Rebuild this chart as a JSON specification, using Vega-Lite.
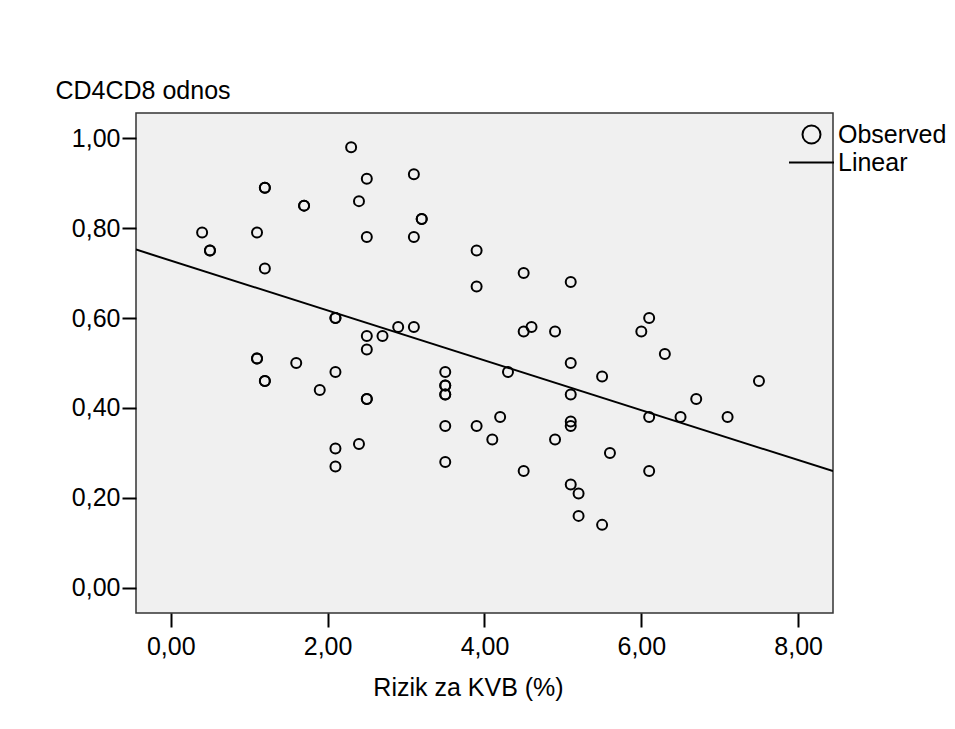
{
  "$schema": "https://vega.github.io/schema/vega-lite/v6.json",
  "width": 697,
  "height": 500,
  "autosize": {"type": "none"},
  "padding": {"left": 136, "top": 113, "right": 122, "bottom": 116},
  "background": "white",
  "config": {
    "font": "Liberation Sans",
    "view": {"fill": "#f0f0f0", "stroke": "#333333", "strokeWidth": 1.5},
    "axis": {
      "domain": false,
      "grid": false,
      "tickSize": 14,
      "tickWidth": 2,
      "tickColor": "black",
      "labelColor": "black",
      "labelFontSize": 25,
      "titleColor": "black",
      "titleFontSize": 25,
      "titleFontWeight": "normal"
    }
  },
  "data": {
    "values": [
      {"kvb": 0.4, "cd": 0.79}, {"kvb": 0.5, "cd": 0.75}, {"kvb": 0.5, "cd": 0.75},
      {"kvb": 1.1, "cd": 0.79}, {"kvb": 1.2, "cd": 0.89}, {"kvb": 1.2, "cd": 0.89},
      {"kvb": 1.2, "cd": 0.71}, {"kvb": 1.7, "cd": 0.85}, {"kvb": 1.7, "cd": 0.85},
      {"kvb": 2.3, "cd": 0.98}, {"kvb": 2.5, "cd": 0.91}, {"kvb": 2.4, "cd": 0.86},
      {"kvb": 3.1, "cd": 0.92}, {"kvb": 3.2, "cd": 0.82}, {"kvb": 3.2, "cd": 0.82},
      {"kvb": 2.5, "cd": 0.78}, {"kvb": 3.1, "cd": 0.78}, {"kvb": 3.9, "cd": 0.75},
      {"kvb": 3.9, "cd": 0.67}, {"kvb": 2.1, "cd": 0.60}, {"kvb": 2.1, "cd": 0.60},
      {"kvb": 2.5, "cd": 0.56}, {"kvb": 2.7, "cd": 0.56}, {"kvb": 2.9, "cd": 0.58},
      {"kvb": 3.1, "cd": 0.58}, {"kvb": 2.5, "cd": 0.53}, {"kvb": 1.1, "cd": 0.51},
      {"kvb": 1.1, "cd": 0.51}, {"kvb": 1.6, "cd": 0.50}, {"kvb": 2.1, "cd": 0.48},
      {"kvb": 1.2, "cd": 0.46}, {"kvb": 1.2, "cd": 0.46}, {"kvb": 1.9, "cd": 0.44},
      {"kvb": 2.5, "cd": 0.42}, {"kvb": 2.5, "cd": 0.42}, {"kvb": 2.1, "cd": 0.31},
      {"kvb": 2.1, "cd": 0.27}, {"kvb": 2.4, "cd": 0.32}, {"kvb": 3.5, "cd": 0.48},
      {"kvb": 3.5, "cd": 0.45}, {"kvb": 3.5, "cd": 0.45}, {"kvb": 3.5, "cd": 0.43},
      {"kvb": 3.5, "cd": 0.43}, {"kvb": 3.5, "cd": 0.36}, {"kvb": 3.5, "cd": 0.28},
      {"kvb": 3.9, "cd": 0.36}, {"kvb": 4.1, "cd": 0.33}, {"kvb": 4.2, "cd": 0.38},
      {"kvb": 4.5, "cd": 0.70}, {"kvb": 5.1, "cd": 0.68}, {"kvb": 4.5, "cd": 0.57},
      {"kvb": 4.6, "cd": 0.58}, {"kvb": 4.9, "cd": 0.57}, {"kvb": 5.1, "cd": 0.50},
      {"kvb": 5.5, "cd": 0.47}, {"kvb": 4.3, "cd": 0.48}, {"kvb": 5.1, "cd": 0.43},
      {"kvb": 5.1, "cd": 0.37}, {"kvb": 5.1, "cd": 0.36}, {"kvb": 4.9, "cd": 0.33},
      {"kvb": 5.6, "cd": 0.30}, {"kvb": 4.5, "cd": 0.26}, {"kvb": 5.1, "cd": 0.23},
      {"kvb": 5.2, "cd": 0.21}, {"kvb": 5.2, "cd": 0.16}, {"kvb": 5.5, "cd": 0.14},
      {"kvb": 6.1, "cd": 0.60}, {"kvb": 6.0, "cd": 0.57}, {"kvb": 6.3, "cd": 0.52},
      {"kvb": 7.5, "cd": 0.46}, {"kvb": 6.7, "cd": 0.42}, {"kvb": 6.1, "cd": 0.38},
      {"kvb": 6.5, "cd": 0.38}, {"kvb": 7.1, "cd": 0.38}, {"kvb": 6.1, "cd": 0.26}
    ]
  },
  "layer": [
    {
      "mark": {"type": "point", "filled": false, "color": "black", "strokeWidth": 2, "size": 100, "opacity": 1},
      "encoding": {
        "x": {
          "field": "kvb", "type": "quantitative",
          "scale": {"domain": [-0.443, 8.444], "nice": false, "zero": false},
          "axis": {
            "values": [0, 2, 4, 6, 8],
            "labelExpr": "replace(format(datum.value, '.2f'), '.', ',')",
            "labelPadding": 7,
            "title": "Rizik za KVB (%)",
            "titlePadding": 16,
            "titleX": 332,
            "titleAlign": "center"
          }
        },
        "y": {
          "field": "cd", "type": "quantitative",
          "scale": {"domain": [-0.056, 1.056], "nice": false, "zero": false},
          "axis": {
            "values": [0, 0.2, 0.4, 0.6, 0.8, 1.0],
            "labelExpr": "replace(format(datum.value, '.2f'), '.', ',')",
            "labelPadding": 2,
            "title": "CD4CD8 odnos",
            "titleAngle": 0,
            "titleAlign": "left",
            "titleBaseline": "alphabetic",
            "titleX": -81,
            "titleY": -15
          }
        },
        "shape": {
          "datum": "Observed",
          "type": "nominal",
          "scale": {
            "domain": ["Observed", "Linear"],
            "range": ["M-1,0A1,1,0,1,1,1,0A1,1,0,1,1,-1,0Z", "M-2.5,0L2.5,0"]
          },
          "legend": {
            "title": null,
            "orient": "none",
            "legendX": 663,
            "legendY": 9,
            "padding": 0,
            "symbolSize": 324,
            "symbolStrokeWidth": 2,
            "symbolStrokeColor": "black",
            "symbolFillColor": "transparent",
            "labelFontSize": 25,
            "labelColor": "black",
            "labelOffset": 14,
            "rowPadding": 2
          }
        }
      }
    },
    {
      "transform": [{"regression": "cd", "on": "kvb", "extent": [-0.443, 8.444]}],
      "mark": {"type": "line", "color": "black", "strokeWidth": 2, "clip": true},
      "encoding": {
        "x": {"field": "kvb", "type": "quantitative"},
        "y": {"field": "cd", "type": "quantitative"}
      }
    }
  ]
}
